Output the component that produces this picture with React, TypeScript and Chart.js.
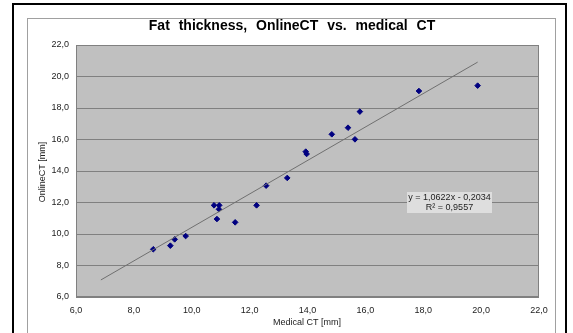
import React, { useEffect, useRef } from "react";
import { Chart, registerables } from "chart.js";

Chart.register(...registerables);

const MEDICAL_CT = [8.67, 9.26, 9.41, 9.79, 10.77, 10.87, 10.94, 10.95, 11.5, 12.24, 12.57, 13.3, 13.94, 13.97, 14.84, 15.4, 15.64, 15.81, 17.85, 19.88];
const ONLINE_CT = [9.03, 9.26, 9.66, 9.87, 11.82, 10.95, 11.57, 11.82, 10.74, 11.82, 13.07, 13.56, 15.23, 15.08, 16.33, 16.75, 16.01, 17.77, 19.08, 19.42];
const SLOPE = 1.0622;
const INTERCEPT = -0.2034;
const R2 = 0.9557;
const TREND_X = [6.86, 19.88];
const AXIS_MIN = 6;
const AXIS_MAX = 22;
const AXIS_STEP = 2;

const TITLE = "Fat thickness, OnlineCT vs. medical CT";
const X_TITLE = "Medical CT [mm]";
const Y_TITLE = "OnlineCT [mm]";

const FONT = '"Liberation Sans", Arial, sans-serif';
const fmt = (v: number) => v.toFixed(1).replace(".", ",");
const fmt4 = (v: number) => Math.abs(v).toFixed(4).replace(".", ",");

const decor = {
  id: "decor",
  beforeDraw(chart: any) {
    const { ctx, chartArea: a } = chart;
    ctx.save();
    ctx.fillStyle = "#ffffff";
    ctx.fillRect(0, 0, chart.width, chart.height);
    ctx.strokeStyle = "#000000";
    ctx.lineWidth = 2;
    ctx.strokeRect(13, 4, 553, 340);
    ctx.strokeStyle = "#a0a0a0";
    ctx.lineWidth = 1;
    ctx.strokeRect(27.5, 18.5, 528, 330);
    ctx.fillStyle = "#c0c0c0";
    ctx.fillRect(a.left, a.top, a.right - a.left, a.bottom - a.top);
    ctx.restore();
  },
  afterDraw(chart: any) {
    const { ctx, chartArea: a } = chart;
    ctx.save();
    ctx.strokeStyle = "#808080";
    ctx.lineWidth = 1;
    ctx.strokeRect(a.left + 0.5, a.top + 0.5, a.right - a.left - 1, a.bottom - a.top - 1);

    ctx.fillStyle = "#000000";
    ctx.textAlign = "center";
    ctx.textBaseline = "middle";
    ctx.font = `bold 14px ${FONT}`;
    (ctx as any).wordSpacing = "5px";
    ctx.fillText(TITLE, 292, 26);
    (ctx as any).wordSpacing = "0px";

    ctx.font = `9px ${FONT}`;
    ctx.fillStyle = "#222222";
    ctx.fillText(X_TITLE, 307, 323);
    ctx.save();
    ctx.translate(43, 172);
    ctx.rotate(-Math.PI / 2);
    ctx.fillText(Y_TITLE, 0, 0);
    ctx.restore();

    // equation box
    ctx.fillStyle = "#dedede";
    ctx.fillRect(407, 192, 85, 21);
    ctx.fillStyle = "#222222";
    ctx.font = `9px ${FONT}`;
    const sign = INTERCEPT < 0 ? "-" : "+";
    ctx.fillText(`y = ${SLOPE.toFixed(4).replace(".", ",")}x ${sign} ${fmt4(INTERCEPT)}`, 449.5, 198);
    ctx.fillText(`R² = ${R2.toFixed(4).replace(".", ",")}`, 449.5, 207.5);
    ctx.restore();
  },
};

export default function App() {
  const ref = useRef<HTMLCanvasElement>(null);
  useEffect(() => {
    document.body.style.margin = "0";
    const points = MEDICAL_CT.map((x, i) => ({ x, y: ONLINE_CT[i] }));
    const trend = TREND_X.map((x) => ({ x, y: SLOPE * x + INTERCEPT }));
    const chart = new Chart(ref.current as HTMLCanvasElement, {
      type: "scatter",
      data: {
        datasets: [
          {
            type: "line",
            data: trend,
            borderColor: "#707070",
            borderWidth: 1,
            pointRadius: 0,
            fill: false,
          } as any,
          {
            data: points,
            pointStyle: "rectRot",
            pointRadius: 2.8,
            backgroundColor: "#000080",
            borderColor: "#000080",
            borderWidth: 1,
          },
        ],
      },
      options: {
        responsive: false,
        maintainAspectRatio: false,
        devicePixelRatio: 1,
        animation: false,
        layout: { padding: { left: 27, top: 45, right: 34, bottom: 0 } },
        plugins: { legend: { display: false }, tooltip: { enabled: false }, title: { display: false } },
        scales: {
          x: {
            type: "linear",
            min: AXIS_MIN,
            max: AXIS_MAX,
            grid: { display: false, drawTicks: false },
            border: { display: false },
            ticks: {
              stepSize: AXIS_STEP,
              padding: 8,
              color: "#222222",
              font: { family: FONT, size: 9 },
              callback: (v: any) => fmt(Number(v)),
              maxRotation: 0,
            },
            afterFit: (s: any) => {
              s.height = 36;
            },
          },
          y: {
            min: AXIS_MIN,
            max: AXIS_MAX,
            grid: { color: "#808080", lineWidth: 1, drawTicks: false },
            border: { display: false },
            ticks: {
              stepSize: AXIS_STEP,
              padding: 7,
              color: "#222222",
              font: { family: FONT, size: 9 },
              callback: (v: any) => fmt(Number(v)),
            },
            afterFit: (s: any) => {
              s.width = 49;
            },
          },
        },
      },
      plugins: [decor],
    });
    return () => chart.destroy();
  }, []);
  return (
    <div style={{ position: "absolute", left: 0, top: 0, width: 573, height: 333 }}>
      <canvas ref={ref} width={573} height={333} style={{ display: "block", width: 573, height: 333 }} />
    </div>
  );
}
